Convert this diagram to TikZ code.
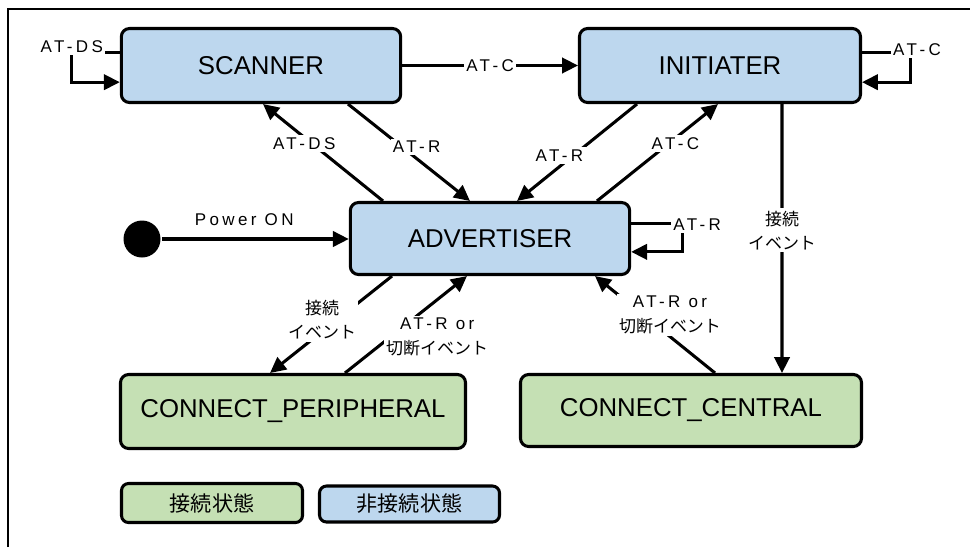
\documentclass[tikz,border=0pt]{standalone}
\usepackage{fontspec}
\setmainfont{Liberation Sans}
\newfontfamily\lblfont{Liberation Sans}[LetterSpace=20]
\newfontfamily\jpfont{Noto Sans CJK JP}
\usepackage{xcolor}
\usetikzlibrary{positioning,calc,arrows.meta}

\definecolor{idleblue}{RGB}{189,215,238}
\definecolor{conngreen}{RGB}{197,224,180}

\tikzset{
    state/.style={draw, line width=2.6pt, rounded corners=7pt, inner sep=0pt,
        font=\fontsize{22}{26}\selectfont, minimum height=2.22cm},
    idle/.style={state, fill=idleblue},
    conn/.style={state, fill=conngreen},
    lbl/.style={fill=white, inner sep=2pt, align=center,
        font=\lblfont\fontsize{14.5}{21}\selectfont},
    jlbl/.style={lbl, font=\jpfont\fontsize{14.5}{21}\selectfont},
    legend/.style={draw, line width=2.6pt, rounded corners=6pt, inner sep=0pt,
        font=\jpfont\fontsize{18}{22}\selectfont}
}

\begin{document}
\begin{tikzpicture}[x=0.03cm, y=-0.03cm, line width=2.6pt,
    >={Triangle[length=13.5pt,width=13pt]}]
    \useasboundingbox (0,0) rectangle (970,547);
    \draw[line width=1.7pt] (8,547) -- (8,9) -- (970,9);

    % states
    \node[idle, minimum width=8.38cm] (scanner) at (261,65.5) {SCANNER};
    \node[idle, minimum width=8.43cm] (initiater) at (720,65.5) {INITIATER};
    \node[idle, minimum width=8.38cm, minimum height=2.16cm] (advertiser) at (490,238.5) {ADVERTISER};
    \node[conn, minimum width=10.35cm] (cperi) at (293,411.5) {CONNECT\_PERIPHERAL};
    \node[conn, minimum width=10.23cm, minimum height=2.16cm] (ccent) at (691,410.5) {CONNECT\_CENTRAL};
    \node[circle, fill, inner sep=0pt, minimum size=1.11cm] (start) at (142,239) {};

    % legend
    \node[legend, fill=conngreen, minimum width=5.43cm, minimum height=1.17cm] (lgconn) at (212,503) {接続状態};
    \node[legend, fill=idleblue, minimum width=5.40cm, minimum height=1.08cm] (lgidle) at (409.5,504) {非接続状態};

    % transitions
    \draw[->] (start) -- node[lbl, above=8pt, pos=.44, fill=none] (lpower) {Power ON} (start -| advertiser.west);
    \draw[->] (scanner) -- node[lbl] (lsc) {AT-C} (initiater);
    \draw[->] ([xshift=2.61cm]scanner.south) -- node[lbl, pos=.44, xshift=.45cm] (lsr) {AT-R} ([xshift=-.6cm]advertiser.north);
    \draw[->] ([xshift=-3.21cm]advertiser.north) -- node[lbl, pos=.59, xshift=-.24cm] (lads) {AT-DS} ([xshift=.06cm]scanner.south);
    \draw[->] ([xshift=-2.49cm]initiater.south) -- node[lbl, pos=.53, xshift=-.42cm] (lir) {AT-R} ([xshift=.81cm]advertiser.north);
    \draw[->] ([xshift=3.21cm]advertiser.north) -- node[lbl, pos=.59, xshift=.21cm] (lac) {AT-C} ([xshift=-.06cm]initiater.south);
    \draw[->] ([xshift=-2.94cm]advertiser.south) -- node[jlbl, pos=.45, xshift=-.45cm] (lap) {接続\\イベント} ([xshift=-.69cm]cperi.north);
    \draw[->] ([xshift=1.56cm]cperi.north) -- node[lbl, pos=.37, xshift=1.41cm] (lpa) {AT-R or\\{\jpfont 切断イベント}} ([xshift=-.69cm]advertiser.south);
    \draw[->] ([xshift=.72cm]ccent.north) -- node[lbl, pos=.6, xshift=.81cm] (lca) {AT-R or\\{\jpfont 切断イベント}} ([xshift=3.15cm]advertiser.south);
    \draw[->] ([xshift=1.86cm]initiater.south) -- node[jlbl, pos=.47] (lic) {接続\\イベント} ([xshift=2.73cm]ccent.north);

    % self loops
    \draw[->] ([yshift=.4cm]scanner.west) -- ++(-1.44cm,0) node[lbl, yshift=.18cm] (lss) {AT-DS} |- ([yshift=-.5cm]scanner.west);
    \draw[->] ([yshift=.4cm]initiater.east) -- ++(1.44cm,0) node[lbl, xshift=.21cm, yshift=.09cm] (lii) {AT-C} |- ([yshift=-.5cm]initiater.east);
    \draw[->] ([yshift=.46cm]advertiser.east) -- ++(1.53cm,0) node[lbl, xshift=.45cm, yshift=-.05cm] (laa) {AT-R} |- ([yshift=-.4cm]advertiser.east);
\end{tikzpicture}
\end{document}
